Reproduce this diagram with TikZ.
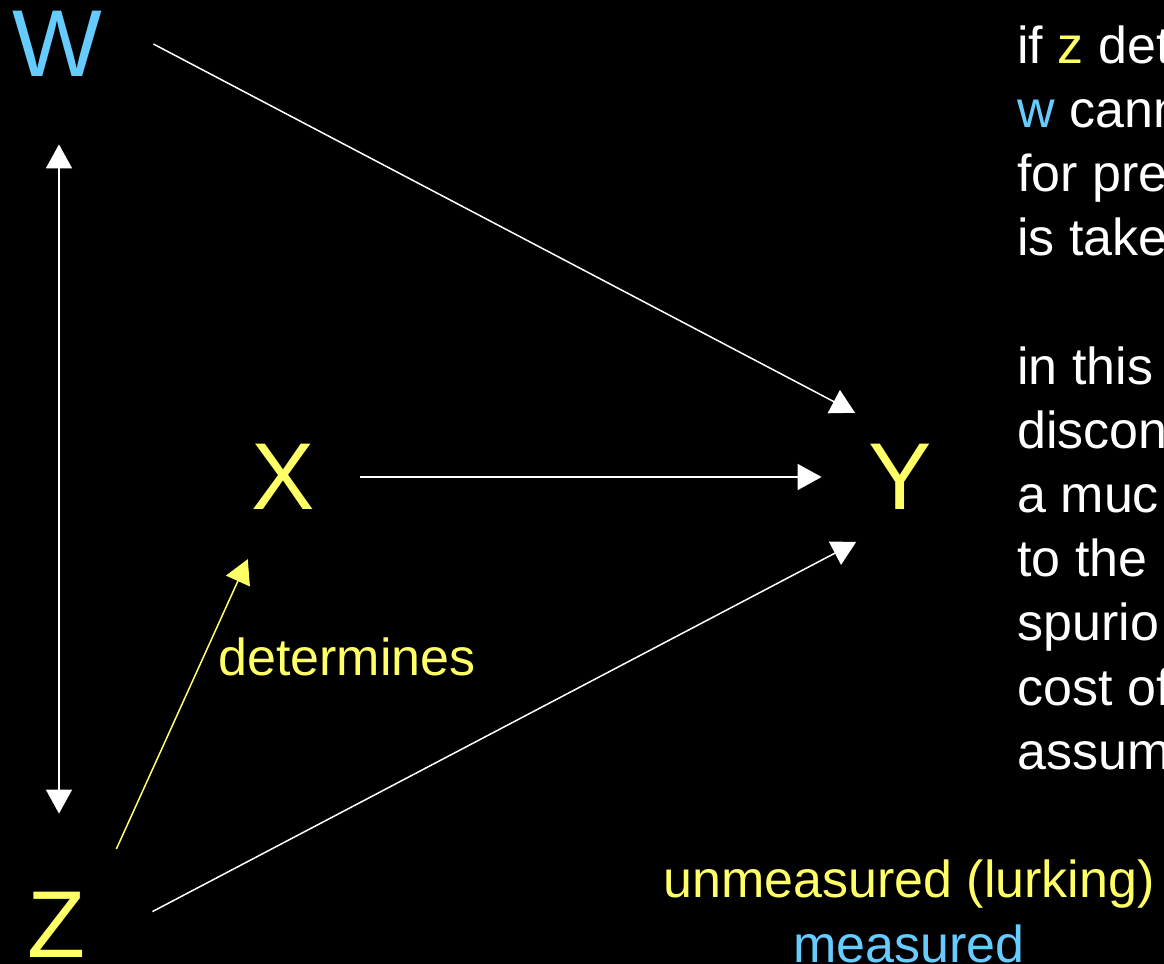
\documentclass[tikz,border=0pt]{standalone}
\usepackage{fontspec}
\setmainfont{Liberation Sans}
\usetikzlibrary{arrows.meta, positioning}
\definecolor{lurk}{RGB}{255,255,102}
\definecolor{meas}{RGB}{102,204,255}

\begin{document}
\begin{tikzpicture}[x=0.5pt, y=-0.5pt,
    var/.style={circle, inner sep=0pt, font=\fontsize{47.5}{57}\selectfont},
    arr/.style={-{Triangle[length=12pt,width=13pt]}, line width=0.75pt, white},
    txt/.style={anchor=base west, inner sep=0pt, white, font=\fontsize{26}{31}\selectfont}]
  \fill[black] (0,0) rectangle (1164,964);
  \clip (0,0) rectangle (1164,964);
  % the four variables
  \node[var, meas, minimum size=96pt] (W) at (57,44) {W};
  \node[var, lurk, minimum size=96pt] (Z) at (57,925) {Z};
  \node[var, lurk, minimum size=77pt] (X) at (283,477) {X};
  \node[var, lurk, minimum size=78pt] (Y) at (900,477) {Y};
  % arrows
  \draw[arr] (W.0) -- (Y.125);
  \draw[arr] (X.0) -- (Y.180);
  \draw[arr] (Z.8) -- (Y.236);
  \draw[arr, {Triangle[length=12pt,width=13pt]}-{Triangle[length=12pt,width=13pt]}, shorten <=2pt, shorten >=7.5pt]
    ([xshift=1pt]W.270) -- ([xshift=1pt]Z.90);
  \draw[arr, lurk, shorten >=6pt] (Z.52) -- (X.247);
  \node[txt, lurk] (det) at (218,675) {determines};
  % notes on the right
  \foreach \line [count=\i from 0] in {if {\color{lurk}z} det, {\color{meas}w} cann, for pre, is take, ,
      in this, discon, a muc, to the, spurio, cost of, assum}
    \node[txt] (note\i) at (1017,63+64.2*\i) {\line};
  % legend
  \node[txt, anchor=base, lurk] (unm) at (909,897) {unmeasured (lurking)};
  \node[txt, anchor=base, meas] (mea) at (909,962) {measured};
\end{tikzpicture}
\end{document}
